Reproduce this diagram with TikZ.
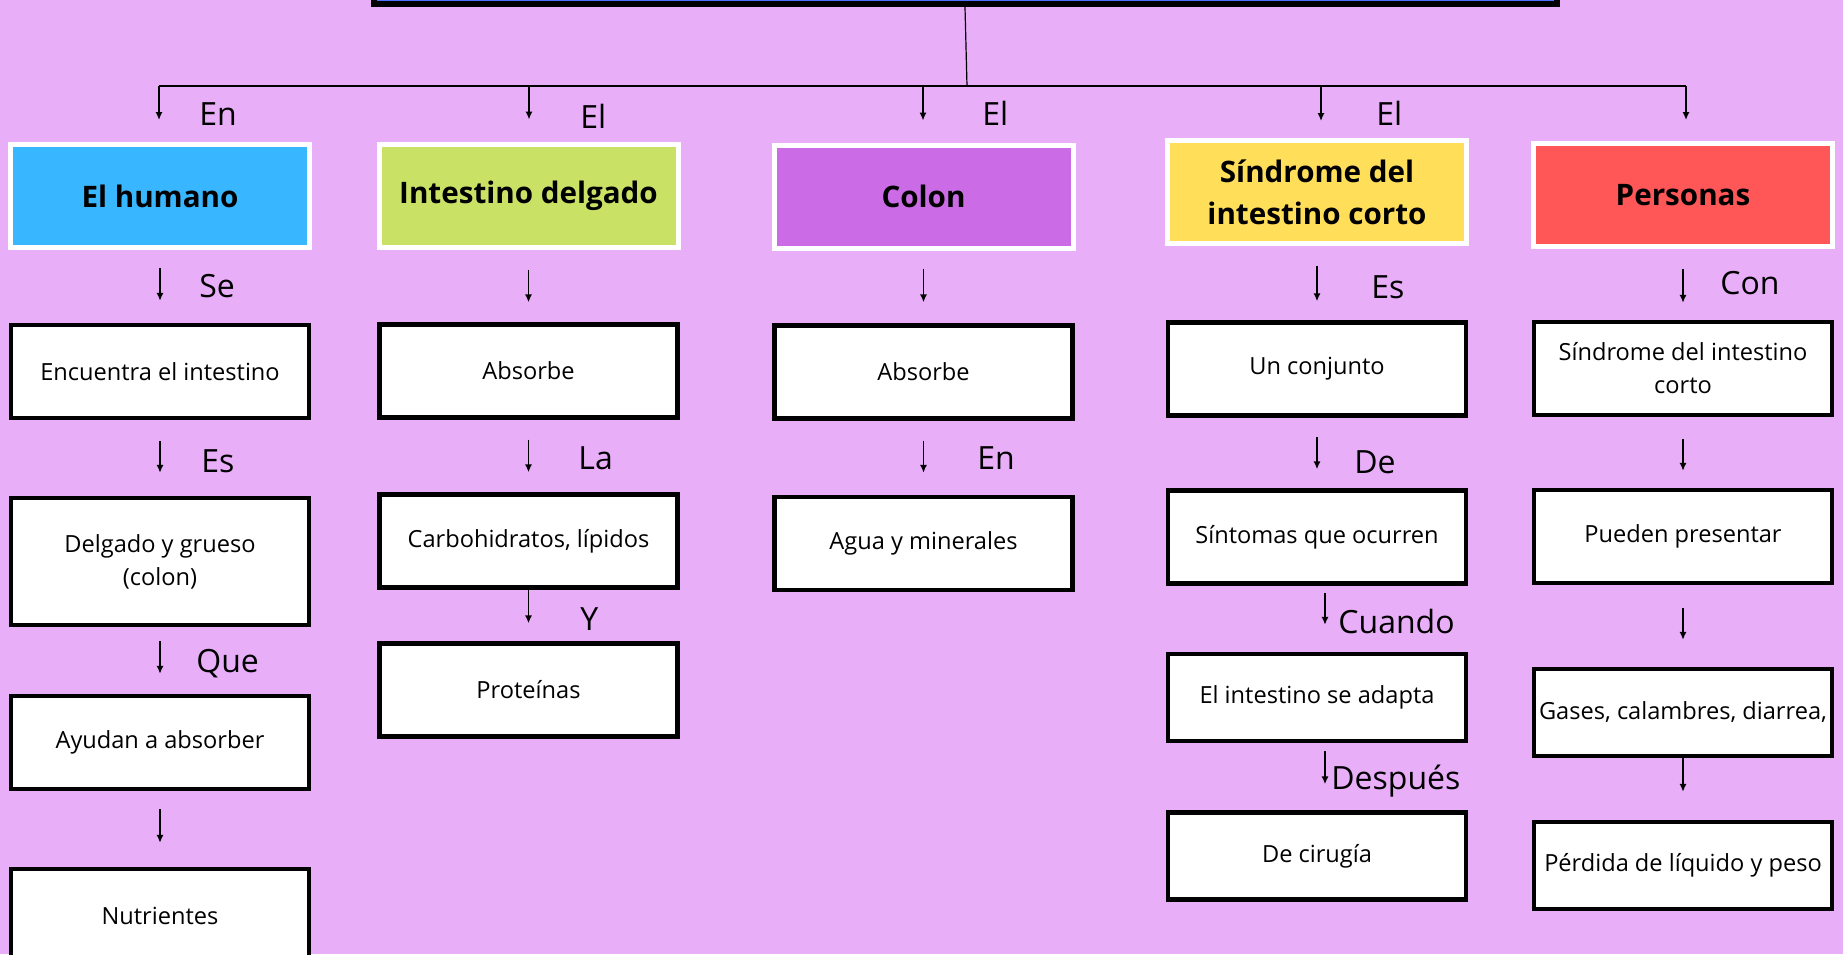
\documentclass[tikz,border=0pt]{standalone}
\usepackage{fontspec}
\setmainfont{Open Sans}
\usetikzlibrary{arrows.meta}
\definecolor{mapbg}{RGB}{232,174,248}
\definecolor{mapblue}{RGB}{56,182,255}
\definecolor{mapgreen}{RGB}{201,226,101}
\definecolor{mappurple}{RGB}{203,108,230}
\definecolor{mapyellow}{RGB}{255,222,89}
\definecolor{mapred}{RGB}{255,87,87}
\definecolor{maptitle}{RGB}{82,113,255}

\begin{document}
\begin{tikzpicture}[x=0.5pt, y=-0.5pt,
    head/.style={draw=white, line width=2.5pt, minimum width=149.5pt, minimum height=51.5pt,
      inner sep=1pt, align=center, font=\fontsize{14.8}{21}\selectfont\bfseries},
    box/.style={draw=black, line width=2.2pt, fill=white, minimum width=149pt, minimum height=46.5pt,
      inner sep=1pt, align=center, font=\fontsize{11.8}{16.5}\selectfont},
    lbl/.style={anchor=base west, inner sep=0pt, font=\fontsize{16}{18}\selectfont},
    arr/.style={-{Latex[length=4pt,width=3.6pt]}, line width=0.8pt, shorten <=9pt, shorten >=11pt}]

  % Page and background
  \useasboundingbox (0,0) rectangle (1843,954);
  \clip (0,0) rectangle (1843,954);
  \fill[mapbg] (0,0) rectangle (1843,954);

  % Title box, cut by the top edge
  \node[draw=black, line width=3pt, fill=maptitle, minimum width=591.5pt, minimum height=40pt,
    inner sep=0pt] (title) at (965,-36) {};

  % Main bar
  \coordinate (bar) at (967,86);
  \coordinate (b1) at (159,86);
  \coordinate (b2) at (529,86);
  \coordinate (b3) at (923,86);
  \coordinate (b4) at (1321,86);
  \coordinate (b5) at (1686,86);
  \draw[line width=0.6pt] (title.south) -- (bar);
  \draw[line width=1pt] (b1) -- (b5);

  % Heads
  \node[head, fill=mapblue] (hum) at (160,196) {El humano};
  \node[head, fill=mapgreen] (int) at (528.5,195.5) {Intestino delgado};
  \node[head, fill=mappurple] (col) at (923.5,196.5) {Colon};
  \node[head, fill=mapyellow] (sin) at (1317,192) {Síndrome del\\intestino corto};
  \node[head, fill=mapred] (per) at (1683,195) {Personas};

  \draw[arr, shorten <=0pt] (b1) -- (b1 |- hum.north);
  \draw[arr, shorten <=0pt] (b2) -- (b2 |- int.north);
  \draw[arr, shorten <=0pt] (b3) -- (b3 |- col.north);
  \draw[arr, shorten <=0pt, shorten >=8.5pt] (b4) -- (b4 |- sin.north);
  \draw[arr, shorten <=0pt, shorten >=10.5pt] (b5) -- (b5 |- per.north);
  \node[lbl] (len1) at (199,125) {En};
  \node[lbl] (lel2) at (580,128) {El};
  \node[lbl] (lel3) at (982,125) {El};
  \node[lbl] (lel4) at (1376,125) {El};

  % El humano
  \node[box] (enc) at (160,371.5) {Encuentra el intestino};
  \node[box, minimum height=63.5pt] (del) at (160,561.5) {Delgado y grueso\\(colon)};
  \node[box] (ayu) at (160,742.5) {Ayudan a absorber};
  \node[box] (nut) at (160,915.5) {Nutrientes};
  \draw[arr] (hum) -- (enc);
  \draw[arr, shorten <=10.5pt, shorten >=11.5pt] (enc) -- (del);
  \draw[arr, shorten <=7pt, shorten >=10pt] (del) -- (ayu);
  \draw[arr, shorten >=12pt] (ayu) -- (nut);
  \node[lbl] (lse) at (199,297) {Se};
  \node[lbl] (les1) at (201,472) {Es};
  \node[lbl] (lque) at (196,672) {Que};

  % Intestino delgado
  \node[box] (abs1) at (528.5,371) {Absorbe};
  \node[box] (carb) at (528.5,541) {Carbohidratos, lípidos};
  \node[box] (prot) at (528.5,690) {Proteínas};
  \draw[arr, shorten <=10pt, shorten >=10pt] (int) -- (abs1);
  \draw[arr, shorten <=10pt, shorten >=10pt] (abs1) -- (carb);
  \draw[arr, shorten <=0pt, shorten >=9pt] (carb) -- (prot);
  \node[lbl] (lla) at (578,469) {La};
  \node[lbl] (ly) at (580,630) {Y};

  % Colon
  \node[box] (abs2) at (923.5,372) {Absorbe};
  \node[box] (agua) at (923.5,543.5) {Agua y minerales};
  \draw[arr, shorten >=10.5pt] (col) -- (abs2);
  \draw[arr, shorten <=10pt] (abs2) -- (agua);
  \node[lbl] (len3) at (977,469) {En};

  % Sindrome del intestino corto
  \node[box] (conj) at (1317,369) {Un conjunto};
  \node[box] (sint) at (1317,537) {Síntomas que ocurren};
  \node[box, minimum height=43.5pt] (adap) at (1317,697.5) {El intestino se adapta};
  \node[box, minimum height=43.5pt] (cir) at (1317,856) {De cirugía};
  \draw[arr, shorten <=10pt, shorten >=9.5pt] (sin) -- (conj);
  \draw[arr, shorten <=9.5pt, shorten >=9.5pt] (conj) -- (sint);
  \draw[arr, shorten <=3.5pt, shorten >=13.5pt] ([xshift=4pt]sint.south) -- ([xshift=4pt]adap.north);
  \draw[arr, shorten <=4pt, shorten >=13pt] ([xshift=4pt]adap.south) -- ([xshift=4pt]cir.north);
  \node[lbl] (les4) at (1371,298) {Es};
  \node[lbl] (lde) at (1354,473) {De};
  \node[lbl] (lcua) at (1338,633) {Cuando};
  \node[lbl] (ldes) at (1331,789) {Después};

  % Personas
  \node[box] (sic) at (1683,368.5) {Síndrome del intestino\\corto};
  \node[box] (pue) at (1683,536.5) {Pueden presentar};
  \node[box, minimum height=43.5pt] (gas) at (1683,712.5) {Gases, calambres, diarrea,};
  \node[box, minimum height=43.5pt] (perd) at (1683,865.5) {Pérdida de líquido y peso};
  \draw[arr, shorten <=10pt, shorten >=8.5pt] (per) -- (sic);
  \draw[arr, shorten <=11pt, shorten >=8.5pt] (sic) -- (pue);
  \draw[arr, shorten <=11.5pt, shorten >=13.5pt] (pue) -- (gas);
  \draw[arr, shorten <=0pt, shorten >=14pt] (gas) -- (perd);
  \node[lbl] (lcon) at (1720,294) {Con};
\end{tikzpicture}
\end{document}
